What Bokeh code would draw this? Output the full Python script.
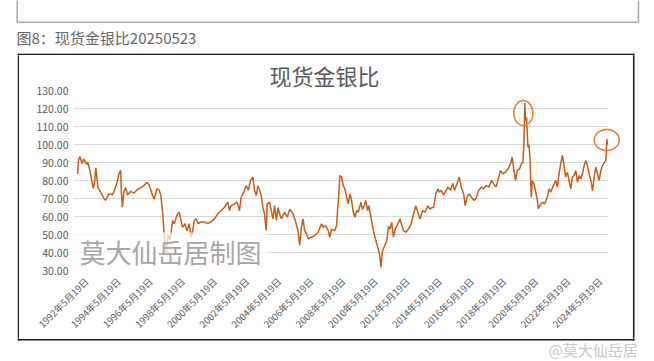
import math
from bokeh.plotting import figure
from bokeh.layouts import column, row
from bokeh.models import (Range1d, FixedTicker, CustomJSTickFormatter, Label, Title,
                          BoxAnnotation, PolyAnnotation, ColumnDataSource,
                          NumeralTickFormatter, LinearAxis)
from bokeh.embed import file_html
from bokeh.resources import INLINE

# ---- data (decimal year, gold/silver ratio) ----
years = [
    1992.38, 1992.44, 1992.52, 1992.67, 1992.77, 1992.94, 1993.02, 1993.15, 1993.24, 1993.36,
    1993.44, 1993.52, 1993.65, 1993.82, 1994.02, 1994.13, 1994.34, 1994.55, 1994.65, 1994.82,
    1994.96, 1995.07, 1995.11, 1995.17, 1995.27, 1995.38, 1995.49, 1995.69, 1995.90, 1996.11,
    1996.32, 1996.49, 1996.69, 1996.84, 1997.05, 1997.15, 1997.32, 1997.46, 1997.57, 1997.67,
    1997.76, 1997.82, 1997.92, 1998.02, 1998.15, 1998.30, 1998.40, 1998.57, 1998.71, 1998.82,
    1998.92, 1999.07, 1999.19, 1999.34, 1999.44, 1999.55, 1999.65, 1999.76, 1999.90, 2000.07,
    2000.27, 2000.49, 2000.69, 2000.90, 2001.11, 2001.32, 2001.52, 2001.74, 2001.84, 2001.94,
    2002.15, 2002.32, 2002.46, 2002.57, 2002.74, 2002.88, 2003.02, 2003.15, 2003.30, 2003.40,
    2003.51, 2003.61, 2003.71, 2003.82, 2003.92, 2004.02, 2004.13, 2004.19, 2004.34, 2004.44,
    2004.55, 2004.65, 2004.76, 2004.86, 2004.96, 2005.07, 2005.27, 2005.44, 2005.59, 2005.80,
    2005.94, 2006.11, 2006.21, 2006.32, 2006.42, 2006.52, 2006.63, 2006.74, 2006.94, 2007.15,
    2007.36, 2007.57, 2007.67, 2007.82, 2007.99, 2008.09, 2008.19, 2008.40, 2008.51, 2008.57,
    2008.65, 2008.71, 2008.82, 2008.92, 2009.02, 2009.13, 2009.24, 2009.34, 2009.44, 2009.55,
    2009.65, 2009.76, 2009.86, 2010.02, 2010.11, 2010.24, 2010.32, 2010.44, 2010.52, 2010.65,
    2010.80, 2010.90, 2011.01, 2011.11, 2011.21, 2011.27, 2011.36, 2011.49, 2011.63, 2011.74,
    2011.84, 2011.94, 2012.05, 2012.15, 2012.32, 2012.46, 2012.57, 2012.67, 2012.82, 2012.98,
    2013.15, 2013.30, 2013.44, 2013.57, 2013.71, 2013.86, 2014.02, 2014.19, 2014.34, 2014.44,
    2014.55, 2014.69, 2014.82, 2014.90, 2015.02, 2015.17, 2015.27, 2015.44, 2015.59, 2015.74,
    2015.86, 2016.01, 2016.15, 2016.27, 2016.42, 2016.52, 2016.63, 2016.74, 2016.90, 2017.05,
    2017.19, 2017.36, 2017.52, 2017.67, 2017.82, 2017.99, 2018.15, 2018.30, 2018.44, 2018.61,
    2018.71, 2018.86, 2019.02, 2019.19, 2019.34, 2019.44, 2019.55, 2019.65, 2019.76, 2019.90,
    2020.02, 2020.11, 2020.17, 2020.23, 2020.27, 2020.34, 2020.42, 2020.48, 2020.55, 2020.59,
    2020.63, 2020.69, 2020.80, 2020.90, 2021.01, 2021.07, 2021.17, 2021.32, 2021.46, 2021.63,
    2021.74, 2021.84, 2022.01, 2022.15, 2022.26, 2022.36, 2022.46, 2022.57, 2022.67, 2022.77,
    2022.88, 2022.98, 2023.09, 2023.19, 2023.30, 2023.40, 2023.51, 2023.61, 2023.71, 2023.82,
    2023.92, 2024.02, 2024.13, 2024.23, 2024.34, 2024.44, 2024.55, 2024.65, 2024.76, 2024.86,
    2024.96, 2025.07, 2025.17, 2025.27, 2025.31, 2025.34, 2025.37, 2025.39,
]
ratio = [
    83.7, 91.0, 93.3, 89.4, 92.0, 89.0, 90.0, 85.6, 81.0, 75.6,
    79.0, 87.0, 76.0, 73.5, 70.0, 69.0, 72.7, 72.0, 74.0, 78.3,
    83.7, 85.6, 73.5, 65.2, 74.0, 76.0, 72.0, 74.0, 73.0, 75.0,
    76.0, 77.0, 79.0, 77.6, 71.7, 69.6, 75.4, 74.6, 72.0, 63.3,
    52.0, 45.0, 40.0, 50.0, 47.0, 57.8, 56.0, 60.6, 62.4, 57.8,
    54.0, 56.0, 52.0, 56.0, 48.5, 52.0, 57.8, 58.7, 56.0, 57.0,
    57.0, 56.0, 57.0, 58.7, 61.5, 63.3, 65.0, 68.0, 63.3, 66.0,
    67.0, 68.0, 63.3, 70.7, 73.5, 77.2, 74.6, 80.0, 81.9, 74.6,
    71.7, 77.0, 75.0, 71.7, 65.0, 61.5, 52.2, 67.0, 68.0, 63.3,
    58.7, 66.0, 57.8, 65.0, 61.5, 58.7, 62.4, 59.6, 64.0, 61.5,
    57.8, 52.2, 43.9, 54.0, 58.7, 52.2, 50.4, 47.6, 48.5, 49.4,
    51.3, 56.0, 54.0, 55.0, 52.2, 48.5, 53.0, 52.2, 55.0, 63.3,
    72.6, 82.8, 82.0, 77.2, 75.4, 71.0, 67.0, 72.6, 69.0, 62.4,
    59.6, 63.3, 62.4, 68.0, 64.0, 66.0, 69.0, 63.3, 66.0, 59.6,
    52.2, 48.5, 44.8, 42.0, 37.4, 31.8, 40.7, 43.5, 46.3, 54.5,
    53.0, 56.7, 48.5, 53.0, 55.7, 58.7, 55.0, 52.2, 51.3, 53.0,
    55.7, 61.5, 66.0, 62.4, 58.7, 63.3, 62.4, 66.0, 64.0, 65.0,
    65.0, 72.6, 75.4, 73.5, 74.6, 72.0, 73.5, 76.3, 74.6, 78.3,
    74.6, 78.3, 81.9, 76.3, 72.6, 66.0, 70.7, 72.6, 70.7, 69.0,
    70.0, 74.6, 76.3, 75.4, 77.2, 76.3, 80.0, 78.0, 76.3, 82.0,
    85.6, 83.7, 84.6, 86.5, 89.3, 93.0, 85.6, 80.0, 85.6, 86.5,
    89.3, 90.0, 100.0, 123.0, 113.3, 115.0, 98.5, 100.0, 93.0, 81.9,
    70.7, 80.0, 78.0, 74.0, 68.9, 64.3, 66.0, 68.0, 67.0, 70.7,
    75.4, 73.5, 77.2, 80.0, 76.3, 83.7, 89.3, 93.9, 88.3, 82.0,
    84.6, 80.0, 75.4, 82.0, 82.8, 85.6, 79.0, 82.8, 81.0, 83.7,
    88.3, 91.0, 88.3, 83.7, 80.0, 74.4, 82.0, 87.4, 83.7, 80.0,
    85.6, 88.3, 90.0, 91.0, 97.6, 103.1, 100.0, 100.7,
]
assert len(years) == len(ratio)

tick_labels = ["1992年5月19日", "1994年5月19日", "1996年5月19日", "1998年5月19日",
               "2000年5月19日", "2002年5月19日", "2004年5月19日", "2006年5月19日",
               "2008年5月19日", "2010年5月19日", "2012年5月19日", "2014年5月19日",
               "2016年5月19日", "2018年5月19日", "2020年5月19日", "2022年5月19日",
               "2024年5月19日"]
tick_pos = [1992.38, 1994.38, 1996.38, 1998.38, 2000.38, 2002.38, 2004.38, 2006.38,
            2008.38, 2010.38, 2012.38, 2014.38, 2016.38, 2018.38, 2020.38, 2022.38,
            2024.38]
y_ticks = [30, 40, 50, 60, 70, 80, 90, 100, 110, 120, 130]

title_text = "现货金银比"
caption_text = "图8：现货金银比20250523"
watermark_text = "莫大仙岳居制图"
weibo_text = "@莫大仙岳居"

CJK = "Noto Sans CJK SC"

# ---- page geometry (window pixels) ----
PAGE_W = 646
TOP_H, MID_H, BOT_H = 55, 283, 23
CH_X0, CH_X1 = 19, 632            # chart figure horizontal extent
FR_L, FR_R, FR_T, FR_B, FR_W = 17.3, 634.0, 53.3, 340.0, 1.6   # black chart border


def add_border(fig):
    for l, r, t, b in [(FR_L, FR_R, FR_T, FR_T + FR_W), (FR_L, FR_R, FR_B - FR_W, FR_B),
                       (FR_L, FR_L + FR_W, FR_T, FR_B), (FR_R - FR_W, FR_R, FR_T, FR_B)]:
        fig.add_layout(BoxAnnotation(left=l, right=r, top=t, bottom=b, fill_color="#1a1a1a",
                                     fill_alpha=1, line_color=None))


def strip(x0, y0, w, h):
    f = figure(width=w, height=h, output_backend="svg", toolbar_location=None,
               x_range=Range1d(x0, x0 + w), y_range=Range1d(y0 + h, y0), title=None,
               x_axis_location=None, y_axis_location=None,
               min_border=0, min_border_left=0, min_border_right=0,
               min_border_top=0, min_border_bottom=0, frame_align=False)
    f.outline_line_color = None
    f.xgrid.visible = False
    f.ygrid.visible = False
    f.background_fill_color = "white"
    f.border_fill_color = "white"
    add_border(f)
    return f


# ================= top strip: previous box, caption =================
top = strip(0, 0, PAGE_W, TOP_H)
top.add_layout(BoxAnnotation(left=16.7, right=638, top=-5, bottom=21.7,
                             fill_alpha=0, line_color="#a6a6a6", line_alpha=1,
                             line_width=1.5))
top.add_layout(Label(x=16, y=37, text=caption_text, text_font=CJK,
                     text_font_size="15px", text_color="#666666",
                     text_baseline="middle", text_align="left"))

left = strip(0, TOP_H, CH_X0, MID_H)
right = strip(CH_X1, TOP_H, PAGE_W - CH_X1, MID_H)

# ================= bottom strip: weibo watermark =================
bot = strip(0, TOP_H + MID_H, PAGE_W, BOT_H)
bot.add_layout(Label(x=548, y=349, text=weibo_text, text_font=CJK,
                     text_font_size="15px", text_color="#c8c8c8",
                     text_baseline="middle", text_align="left"))

# ================= chart =================
CW, CH = CH_X1 - CH_X0, MID_H
MB_L, MB_R, MB_T, MB_B = 54, 10, 35, 68
X0, X1 = 1992.13, 2026.31
Y0, Y1 = 30, 130
fw = CW - MB_L - MB_R
fh = CH - MB_T - MB_B
ppx = fw / (X1 - X0)
ppy = fh / (Y1 - Y0)

p = figure(width=CW, height=CH, output_backend="svg", toolbar_location=None,
           x_range=Range1d(X0, X1), y_range=Range1d(Y0, Y1), title=None,
           x_axis_location=None, frame_align=False,
           min_border_left=MB_L, min_border_right=MB_R,
           min_border_top=MB_T, min_border_bottom=MB_B)
p.outline_line_color = None
p.background_fill_color = "white"
p.border_fill_color = "white"

p.add_layout(Title(text=title_text, align="left", offset=196, standoff=0,
                   text_font=CJK, text_font_size="22px", text_font_style="normal",
                   text_color="#595959"), "above")

p.xgrid.visible = False
yt = FixedTicker(ticks=y_ticks)
p.yaxis.ticker = yt
p.ygrid.ticker = yt
p.ygrid.grid_line_color = "#d9d9d9"
p.ygrid.grid_line_width = 1

p.yaxis.formatter = NumeralTickFormatter(format="0.00")
p.yaxis.axis_line_color = None
p.yaxis.major_tick_line_color = None
p.yaxis.minor_tick_line_color = None
p.yaxis.major_tick_out = 0
p.yaxis.major_tick_in = 0
p.yaxis.minor_tick_out = 0
p.yaxis.major_label_text_font = CJK
p.yaxis.major_label_text_font_size = "10.5px"
p.yaxis.major_label_text_color = "#595959"
p.yaxis.major_label_standoff = 5

# date labels: Excel anchors the rotated labels slightly right of the tick
label_shift = 9 / ppx
p.extra_x_ranges = {"lab": Range1d(X0 - label_shift, X1 - label_shift)}
xax = LinearAxis(x_range_name="lab", ticker=FixedTicker(ticks=tick_pos))
xax.formatter = CustomJSTickFormatter(args=dict(pos=tick_pos, labels=tick_labels), code="""
let best = 0;
for (let i = 0; i < pos.length; i++) {
  if (Math.abs(pos[i] - tick) < Math.abs(pos[best] - tick)) best = i;
}
return labels[best];
""")
xax.axis_line_color = None
xax.major_tick_line_color = None
xax.minor_tick_line_color = None
xax.major_tick_out = 0
xax.major_tick_in = 0
xax.minor_tick_out = 0
xax.major_label_orientation = math.pi / 4
xax.major_label_text_font = CJK
xax.major_label_text_font_size = "9.5px"
xax.major_label_text_color = "#595959"
xax.major_label_standoff = 9
p.add_layout(xax, "below")

src = ColumnDataSource(dict(x=years, y=ratio))
p.line("x", "y", source=src, line_color="#C65D18", line_width=1.5)

# plot area ends with the last observation; keep the space right of it blank
p.add_layout(BoxAnnotation(left=years[-1] + 0.03, right=X1 + 1, fill_color="white",
                           fill_alpha=1, line_color=None))

# watermark with translucent white panel (chart-canvas pixels)
p.add_layout(BoxAnnotation(left=51, right=249, top=177, bottom=218,
                           left_units="canvas", right_units="canvas",
                           top_units="canvas", bottom_units="canvas",
                           fill_color="white", fill_alpha=0.72, line_color=None))
p.add_layout(Label(x=151, y=195.5, x_units="canvas", y_units="canvas", text=watermark_text,
                   text_font=CJK, text_font_size="26px", text_color="#a6a6a6",
                   text_baseline="middle", text_align="center"))


def ellipse_annotation(cx, cy, wpx, hpx):
    n = 72
    xs = [cx + (wpx / 2) * math.cos(2 * math.pi * k / n) / ppx for k in range(n)]
    ys = [cy + (hpx / 2) * math.sin(2 * math.pi * k / n) / ppy for k in range(n)]
    return PolyAnnotation(xs=xs, ys=ys, fill_alpha=0, line_color="#ED7D31",
                          line_alpha=1, line_width=1.6)


i_max = max(range(len(ratio)), key=lambda i: ratio[i])
p.add_layout(ellipse_annotation(years[i_max] - 1.5 / ppx, ratio[i_max] - 5.5, 19, 25))
p.add_layout(ellipse_annotation(years[-1] - 1.0 / ppx, max(ratio[-4:]) - 0.6, 25, 21))

layout = column(top, row(left, p, right, spacing=0), bot, spacing=0)

open("out.html", "w").write(file_html(layout, INLINE))
